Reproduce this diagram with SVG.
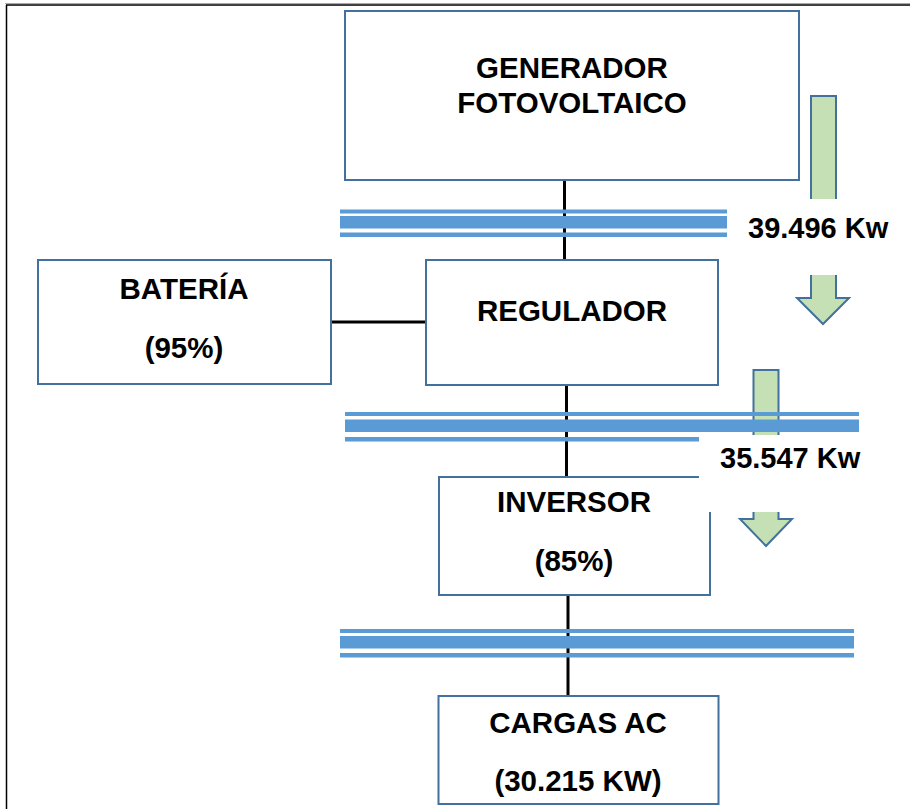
<svg xmlns="http://www.w3.org/2000/svg" width="910" height="809" viewBox="0 0 910 809">
<style>
.box{fill:#fff;stroke:#41719c;stroke-width:2}
.t{font-family:"Liberation Sans",Arial,sans-serif;font-weight:bold;font-size:29.5px;fill:#000;text-anchor:middle}
.lbl{font-family:"Liberation Sans",Arial,sans-serif;font-weight:bold;font-size:29px;fill:#000}
.wire{stroke:#000;stroke-width:3;fill:none}
.bus{fill:#5b9bd5}
.arrow{fill:#c5e0b4;stroke:#41719c;stroke-width:2}
</style>
<rect width="910" height="809" fill="#fff"/>
<g id="frame">
<line x1="5" y1="3.5" x2="910" y2="3.5" stroke="#aaa" stroke-width="1"/>
<line x1="6" y1="5" x2="910" y2="5" stroke="#000" stroke-width="1.5"/>
<line x1="6.5" y1="5" x2="6.5" y2="809" stroke="#000" stroke-width="1.5"/>
</g>
<g id="connectors">
<line class="wire" x1="564.5" y1="180" x2="564.5" y2="260"/>
<line class="wire" x1="331" y1="322" x2="426" y2="322"/>
<line class="wire" x1="566.5" y1="385" x2="566.5" y2="477"/>
<line class="wire" x1="568" y1="595" x2="568" y2="696"/>
</g>
<g id="flow-arrow-1">
<polygon class="arrow" points="811,96 836,96 836,298 849,298 823,324 797,298 811,298"/>
</g>
<g id="flow-arrow-2">
<polygon class="arrow" points="753.5,370 778.5,370 778.5,519 792,519 766,546 740,519 753.5,519"/>
</g>
<g id="bus-1">
<rect class="bus" x="340" y="209.5" width="387" height="4"/>
<rect class="bus" x="340" y="216" width="387" height="12.5"/>
<rect class="bus" x="340" y="232.5" width="387" height="4.5"/>
</g>
<g id="bus-2">
<rect class="bus" x="345" y="412" width="514" height="4"/>
<rect class="bus" x="345" y="419.5" width="514" height="12.5"/>
<rect class="bus" x="345" y="437" width="354" height="4.5"/>
</g>
<g id="bus-3">
<rect class="bus" x="340" y="629" width="514" height="4"/>
<rect class="bus" x="340" y="636" width="514" height="12.5"/>
<rect class="bus" x="340" y="653" width="514" height="4.5"/>
</g>
<g id="generador">
<rect class="box" x="345" y="11" width="454" height="169"/>
<text class="t" x="572" y="78">GENERADOR</text>
<text class="t" x="572" y="113">FOTOVOLTAICO</text>
</g>
<g id="bateria">
<rect class="box" x="38" y="260" width="293" height="124"/>
<text class="t" x="184" y="299">BATERÍA</text>
<text class="t" x="184" y="358">(95%)</text>
</g>
<g id="regulador">
<rect class="box" x="426" y="260" width="292" height="125"/>
<text class="t" x="572" y="321">REGULADOR</text>
</g>
<g id="inversor">
<rect class="box" x="439" y="477" width="271" height="118"/>
<text class="t" x="574" y="512">INVERSOR</text>
<text class="t" x="574" y="571">(85%)</text>
</g>
<g id="cargas">
<rect class="box" x="438.5" y="696" width="280" height="108"/>
<text class="t" x="578" y="733">CARGAS AC</text>
<text class="t" x="578" y="791">(30.215 KW)</text>
</g>
<g id="label-1">
<rect x="735" y="199" width="175" height="76" fill="#fff"/>
<text class="lbl" x="748" y="238">39.496 Kw</text>
</g>
<g id="label-2">
<rect x="699" y="435" width="211" height="77" fill="#fff"/>
<text class="lbl" x="720" y="468">35.547 Kw</text>
</g>
</svg>
